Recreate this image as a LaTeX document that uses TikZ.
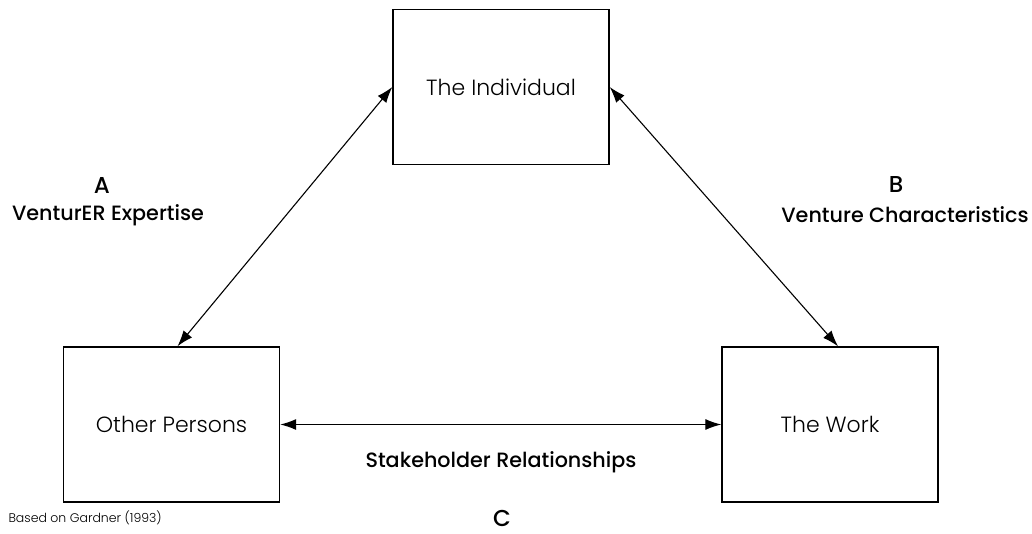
\documentclass[tikz,border=0pt]{standalone}
\usepackage{fontspec}
\setmainfont{Poppins}
\newfontfamily\lightfont{Poppins Light}
\newfontfamily\medfont{Poppins Medium}
\usetikzlibrary{arrows.meta}

\begin{document}
\begin{tikzpicture}[x=1pt, y=-1pt,
        box/.style={draw, line width=1.4pt, minimum width=216pt, minimum height=155pt, font=\lightfont\fontsize{22}{26}\selectfont},
        lab/.style={font=\medfont\fontsize{20.7}{24}\selectfont},
        letter/.style={inner sep=0pt, font=\medfont\fontsize{23}{27}\selectfont},
        >={Latex[length=16pt,width=11pt]}]
        \useasboundingbox (0,0) rectangle (1032,533);

        % The three boxes
        \node[box] (IND) at (501,87) {The Individual};
        \node[box] (OP) at (171.5,424.5) {Other Persons};
        \node[box] (TW) at (830,424.5) {The Work};

        % Relations
        \draw[<->, line width=1.1pt] ([xshift=6pt]OP.north) -- (IND.west);
        \draw[<->, line width=1.1pt] (IND.east) -- ([xshift=8pt]TW.north);
        \draw[<->, line width=1.1pt] (OP.east) -- (TW.west);

        % Labels
        \node[letter] (A) at (102,185) {A};
        \node[lab] (LA) at (108,215) {VenturER Expertise};
        \node[letter] (B) at (896,185) {B};
        \node[lab] (LB) at (905,215) {Venture Characteristics};
        \node[lab] (LC) at (501,462) {Stakeholder Relationships};
        \node[letter] (C) at (502,518) {C};
        \node[anchor=west, font=\lightfont\fontsize{12.5}{15}\selectfont] (src) at (5,518) {Based on Gardner (1993)};
\end{tikzpicture}
\end{document}
